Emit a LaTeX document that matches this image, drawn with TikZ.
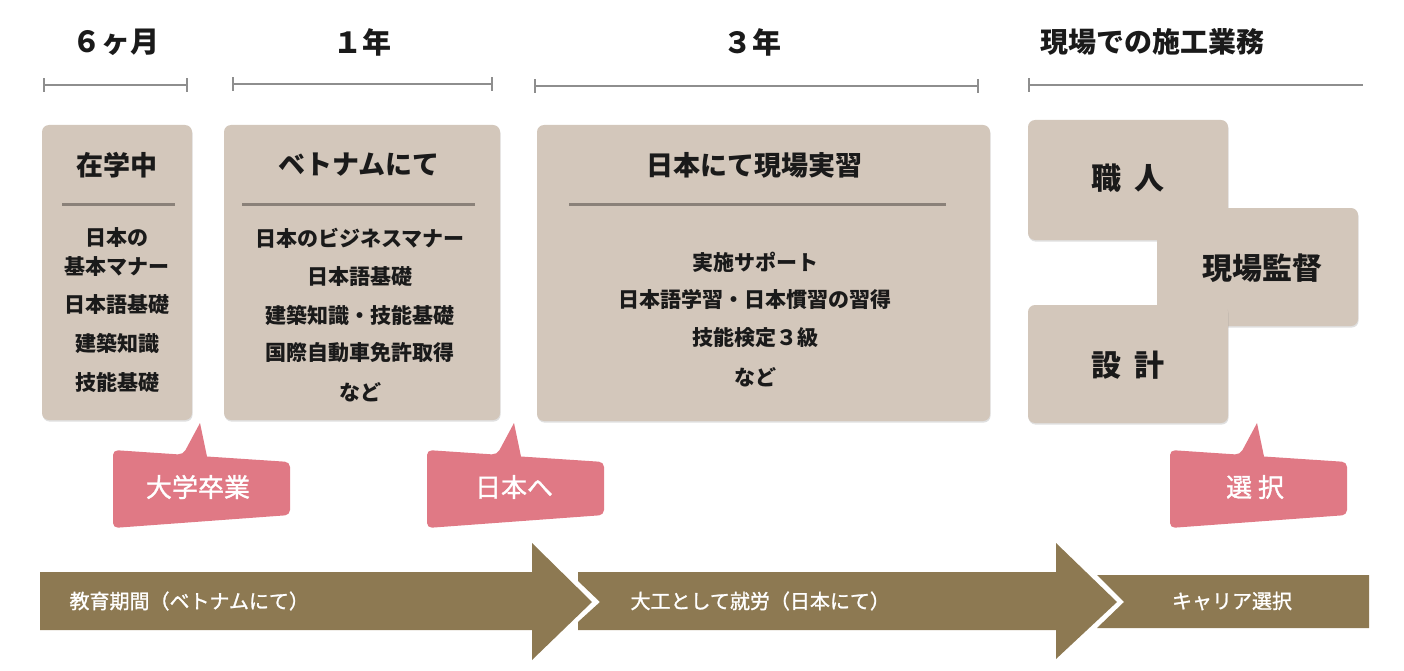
\documentclass[tikz,border=0pt]{standalone}
\usepackage{fontspec}
\setmainfont{Noto Sans CJK JP}[WordSpace=1.8]
\newfontfamily\jpsemi{Noto Sans CJK JP}[FakeBold=1.2]
\usetikzlibrary{shadows}
\definecolor{boxc}{HTML}{D3C7BB}
\definecolor{divc}{HTML}{8A8179}
\definecolor{brk}{HTML}{8E8E8E}
\definecolor{pinkc}{HTML}{E07985}
\definecolor{arrc}{HTML}{8D7952}
\definecolor{txt}{HTML}{1A1A1A}
\begin{document}
\begin{tikzpicture}[x=1pt,y=-1pt,
  box/.style={fill=boxc, rounded corners=7pt, draw=none, inner sep=0pt,
    drop shadow={shadow xshift=0.6pt, shadow yshift=-1.6pt, opacity=0.25}},
  ttl/.style={font=\bfseries\fontsize{27}{30}\selectfont, text=txt},
  item/.style={font=\bfseries\fontsize{21}{24}\selectfont, text=txt, align=center},
  role/.style={font=\bfseries\fontsize{30}{34}\selectfont, text=txt},
  period/.style={font=\bfseries\fontsize{29}{32}\selectfont, text=txt},
  divline/.style={draw=divc, line width=3pt},
  bracket/.style={draw=brk, line width=2.5pt},
  calltxt/.style={font=\jpsemi\fontsize{26}{30}\selectfont, text=white},
  arrtxt/.style={font=\jpsemi\fontsize{20}{24}\selectfont, text=white},
  callout/.pic={
    \fill[pinkc] (0,489) [rounded corners=5pt]-- (0,450) -- (70,454.7)
      [sharp corners]-- (87,423) -- (94,456.5)
      [rounded corners=5pt]-- (177,462) -- (177,515) -- (0,528) -- cycle;
  }
]
\useasboundingbox (0,0) rectangle (1404,671);

% period labels
\node[period] (p1) at (116,42) {６ヶ月};
\node[period] (p2) at (362,42) {１年};
\node[period] (p3) at (752,42) {３年};
\node[period, font=\bfseries\fontsize{28}{32}\selectfont] (p4) at (1152,42) {現場での施工業務};

% brackets
\coordinate (b1l) at (44,85); \coordinate (b1r) at (187,85);
\coordinate (b2l) at (233,84); \coordinate (b2r) at (492,84);
\coordinate (b3l) at (535,86); \coordinate (b3r) at (978,86);
\coordinate (b4l) at (1029,85); \coordinate (b4r) at (1363,85);
\draw[bracket] (b1l) -- (b1r);
\draw[bracket] ([yshift=-7pt]b1l) -- ([yshift=7pt]b1l);
\draw[bracket] ([yshift=-7pt]b1r) -- ([yshift=7pt]b1r);
\draw[bracket] (b2l) -- (b2r);
\draw[bracket] ([yshift=-7pt]b2l) -- ([yshift=7pt]b2l);
\draw[bracket] ([yshift=-7pt]b2r) -- ([yshift=7pt]b2r);
\draw[bracket] (b3l) -- (b3r);
\draw[bracket] ([yshift=-7pt]b3l) -- ([yshift=7pt]b3l);
\draw[bracket] ([yshift=-7pt]b3r) -- ([yshift=7pt]b3r);
\draw[bracket] (b4l) -- (b4r);
\draw[bracket] ([yshift=-7pt]b4l) -- ([yshift=7pt]b4l);

% main boxes
\node[box, minimum width=150pt, minimum height=295pt] (box1) at (117,272.5) {};
\node[box, minimum width=276pt, minimum height=295pt] (box2) at (362,272.5) {};
\node[box, minimum width=453pt, minimum height=296pt] (box3) at (763.5,273) {};

% box 1
\node[ttl] (t1) at (117,165) {在学中};
\draw[divline] (62,204) -- (175,204);
\node[item] (i11) at (117,252.5) {日本の\\[5pt]基本マナー};
\node[item] (i12) at (117,305) {日本語基礎};
\node[item] (i13) at (117,343) {建築知識};
\node[item] (i14) at (117,382) {技能基礎};

% box 2
\node[ttl] (t2) at (359,165) {ベトナムにて};
\draw[divline] (242,204) -- (475,204);
\node[item] (i21) at (360,238) {日本のビジネスマナー};
\node[item] (i22) at (360,277) {日本語基礎};
\node[item] (i23) at (360,315) {建築知識・技能基礎};
\node[item] (i24) at (360,353) {国際自動車免許取得};
\node[item] (i25) at (360,392) {など};

% box 3
\node[ttl] (t3) at (754,165) {日本にて現場実習};
\draw[divline] (569,204) -- (946,204);
\node[item] (i31) at (755,262) {実施サポート};
\node[item] (i32) at (755,300) {日本語学習・日本慣習の習得};
\node[item] (i33) at (755,338) {技能検定３級};
\node[item] (i34) at (755,377) {など};

% career boxes
\node[box, minimum width=200pt, minimum height=120pt] (r1) at (1128,180) {};
\node[role] (r1t) at (1128,178) {職 人};
\node[box, minimum width=201pt, minimum height=118pt] (r2) at (1257.5,267) {};
\node[role] (r2t) at (1262,268) {現場監督};
\node[box, minimum width=200pt, minimum height=118pt] (r3) at (1128,364) {};
\node[role] (r3t) at (1128,365) {設 計};

% callouts
\pic at (113,0) {callout};
\node[calltxt] (c1) at (198,487) {大学卒業};
\pic at (427,0) {callout};
\node[calltxt] (c2) at (514,487) {日本へ};
\pic at (1170,0) {callout};
\node[calltxt] (c3) at (1255,487) {選 択};

% bottom arrows
\fill[arrc] (40,572) -- (532,572) -- (532,543) -- (592,602) -- (532,660)
  -- (532,630) -- (40,630) -- cycle;
\fill[arrc] (578,572) -- (1056,572) -- (1056,543) -- (1117,602) -- (1056,659)
  -- (1056,630) -- (578,630) -- (578,622) -- (600,602) -- (578,581) -- cycle;
\fill[arrc] (1097,575) -- (1369,575) -- (1369,628) -- (1097,628) -- (1124,602) -- cycle;
\node[arrtxt, anchor=west] (a1) at (66,601) {教育期間（ベトナムにて）};
\node[arrtxt, anchor=west] (a2) at (627,601) {大工として就労（日本にて）};
\node[arrtxt] (a3) at (1232,601) {キャリア選択};
\end{tikzpicture}
\end{document}
